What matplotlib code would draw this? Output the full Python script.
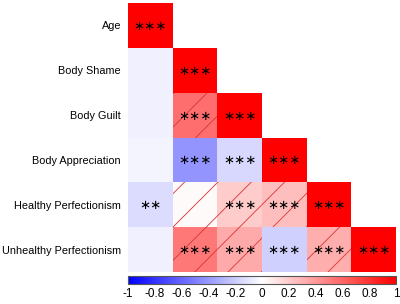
import numpy as np
import matplotlib
matplotlib.use("Agg")
import matplotlib.pyplot as plt
from matplotlib.colors import LinearSegmentedColormap
from matplotlib.patches import Rectangle

variables = ["Age", "Body Shame", "Body Guilt", "Body Appreciation",
             "Healthy Perfectionism", "Unhealthy Perfectionism"]

# lower-triangular correlation values, row by row
corr_rows = [
    [1.00],
    [-0.06, 1.00],
    [-0.06, 0.57, 1.00],
    [-0.04, -0.42, -0.15, 1.00],
    [-0.14, 0.02, 0.20, 0.25, 1.00],
    [-0.06, 0.53, 0.33, -0.18, 0.32, 1.00],
]
sig_rows = [
    ["***"],
    ["", "***"],
    ["", "***", "***"],
    ["", "***", "***", "***"],
    ["**", "", "***", "***", "***"],
    ["", "***", "***", "***", "***", "***"],
]
hatch_rows = [
    [0],
    [0, 0],
    [0, 1, 0],
    [0, 0, 0, 0],
    [0, 1, 1, 1, 0],
    [0, 1, 1, 0, 1, 0],
]
cbar_ticks = [-1, -0.8, -0.6, -0.4, -0.2, 0, 0.2, 0.4, 0.6, 0.8, 1]
cbar_labels = ["-1", "-0.8", "-0.6", "-0.4", "-0.2", "0", "0.2", "0.4", "0.6", "0.8", "1"]

n = len(variables)
M = np.full((n, n), np.nan)
for i, row in enumerate(corr_rows):
    for j, v in enumerate(row):
        M[i, j] = v
Mm = np.ma.masked_invalid(M)

plt.rcParams['font.family'] = ['Liberation Sans', 'DejaVu Sans']
cmap = LinearSegmentedColormap.from_list("bwr2", [(0, 0, 1), (1, 1, 1), (1, 0, 0)])
plt.rcParams['hatch.linewidth'] = 0.6

fig = plt.figure(figsize=(4.0, 3.04), dpi=100)
ax = fig.add_axes([0.32, 0.105, 0.67, 0.885])
mesh = ax.pcolormesh(np.arange(n + 1), np.arange(n + 1), Mm, cmap=cmap, vmin=-1, vmax=1)
for i, row in enumerate(hatch_rows):
    for j, h in enumerate(row):
        if h:
            ax.add_patch(Rectangle((j, i), 1, 1, fill=False, hatch='/',
                                   edgecolor=(0.85, 0.2, 0.2), linewidth=0))
for i, row in enumerate(sig_rows):
    for j, s in enumerate(row):
        if s:
            ax.text(j + 0.5, i + 0.52, s.replace("*", "\u2217"), ha='center', va='center',
                    fontsize=9.5, family='DejaVu Sans', color='black')
ax.set_xlim(0, n)
ax.set_ylim(n, 0)
ax.set_yticks(np.arange(n) + 0.5)
ax.set_yticklabels(variables, fontsize=7.8)
ax.set_xticks([])
ax.tick_params(axis='y', length=0, pad=5)
for sp in ax.spines.values():
    sp.set_visible(False)

cax = fig.add_axes([0.32, 0.066, 0.67, 0.026])
cb = fig.colorbar(mesh, cax=cax, orientation='horizontal', ticks=cbar_ticks)
cb.ax.set_xticklabels(cbar_labels, fontsize=8.5)
cb.ax.tick_params(length=0, pad=3)
cb.outline.set_edgecolor('#555555')
cb.outline.set_linewidth(0.8)

fig.savefig("out.png", dpi=100)
